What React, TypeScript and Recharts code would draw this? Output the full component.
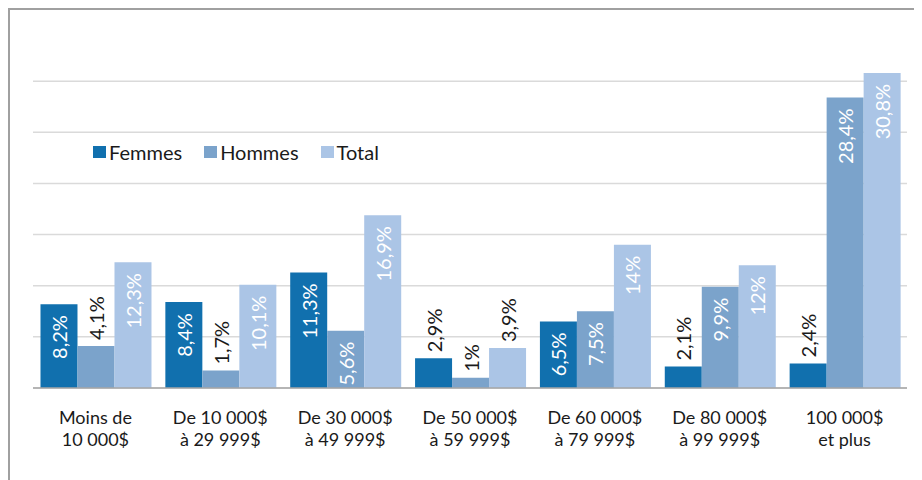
import React from 'react';
import { BarChart, Bar, XAxis, YAxis, CartesianGrid, Legend, LabelList } from 'recharts';

const categories = [
  'Moins de\n10 000$',
  'De 10 000$\nà 29 999$',
  'De 30 000$\nà 49 999$',
  'De 50 000$\nà 59 999$',
  'De 60 000$\nà 79 999$',
  'De 80 000$\nà 99 999$',
  '100 000$\net plus',
];
const femmes = [8.2, 8.4, 11.3, 2.9, 6.5, 2.1, 2.4];
const hommes = [4.1, 1.7, 5.6, 1, 7.5, 9.9, 28.4];
const total = [12.3, 10.1, 16.9, 3.9, 14, 12, 30.8];
const yTicks = [0, 5, 10, 15, 20, 25, 30];

const seriesNames = ['Femmes', 'Hommes', 'Total'];
const colors = ['#1170ae', '#7ba3cb', '#abc5e6'];

const data = categories.map((c, i) => ({
  cat: c,
  Femmes: femmes[i],
  Hommes: hommes[i],
  Total: total[i],
}));

const FONT = 'Lato, "Open Sans", sans-serif';

const fmt = (v: number) => String(v).replace('.', ',') + '%';

const renderLabel = (props: any) => {
  const { x, y, width, height, value } = props;
  const cx = Number(x) + Number(width) / 2;
  const inside = Number(height) > 50;
  const ay = inside ? Number(y) + 11 : Number(y) - 6;
  return (
    <text
      x={cx}
      y={ay}
      transform={`rotate(-90 ${cx} ${ay})`}
      textAnchor={inside ? 'end' : 'start'}
      dominantBaseline="central"
      fontFamily={FONT}
      fontSize={20}
      fill={inside ? '#ffffff' : '#1a1a1a'}
    >
      {fmt(value)}
    </text>
  );
};

const Tick = (props: any) => {
  const { x, y, payload } = props;
  const lines = String(payload.value).split('\n');
  return (
    <text x={x} y={y} textAnchor="middle" fontFamily={FONT} fontSize={18} fill="#1a1a1a">
      {lines.map((l, i) => (
        <tspan key={i} x={x} dy={i === 0 ? 36 : 22}>
          {l}
        </tspan>
      ))}
    </text>
  );
};

const EmptyTick = () => <g />;

const GridLine = (p: any) => {
  const top = Number(p.y);
  if (Math.abs(Number(p.y1) - top) < 1) return <g key={p.key} />;
  return (
    <line
      key={p.key}
      x1={p.x1}
      x2={p.x2}
      y1={p.y1}
      y2={p.y2}
      stroke="#dadada"
      strokeWidth={1.5}
      fill="none"
    />
  );
};

const renderLegend = () => (
  <div style={{ display: 'flex', alignItems: 'center', fontFamily: FONT, fontSize: 20, color: '#1a1a1a' }}>
    {seriesNames.map((n, i) => (
      <div key={n} style={{ display: 'flex', alignItems: 'center', marginRight: 22 }}>
        <div style={{ width: 13, height: 12, background: colors[i], marginRight: 3 }} />
        <span style={{ lineHeight: '22px' }}>{n}</span>
      </div>
    ))}
  </div>
);

export default function App() {
  return (
    <div style={{ position: 'relative', width: 914, height: 472, background: '#fff' }}>
      <div style={{ position: 'absolute', left: 0, top: 0, width: 914, height: 1.5, background: '#a0a0a0' }} />
      <div style={{ position: 'absolute', left: 0, top: 0, width: 1.5, height: 472, background: '#a0a0a0' }} />
      <BarChart
        width={914}
        height={472}
        data={data}
        margin={{ top: 22, right: 15, bottom: 32, left: 25 }}
        barCategoryGap="6%"
        barGap={0}
      >
        <CartesianGrid horizontal={GridLine} vertical={false} stroke="#dadada" strokeWidth={1.5} />
        <XAxis
          dataKey="cat"
          tick={<Tick />}
          tickLine={false}
          tickSize={0}
          tickMargin={0}
          height={60}
          axisLine={{ stroke: '#a6a6a6', strokeWidth: 1.5 }}
          interval={0}
        />
        <YAxis
          width={0}
          domain={[0, 35]}
          ticks={yTicks}
          tick={<EmptyTick />}
          axisLine={false}
          tickLine={false}
          interval={0}
        />
        <Legend
          content={renderLegend}
          wrapperStyle={{ position: 'absolute', left: 85, top: 133, width: 'auto', height: 0, overflow: 'visible' }}
        />
        {seriesNames.map((n, i) => (
          <Bar key={n} dataKey={n} fill={colors[i]} isAnimationActive={false}>
            <LabelList dataKey={n} content={renderLabel} />
          </Bar>
        ))}
      </BarChart>
    </div>
  );
}
